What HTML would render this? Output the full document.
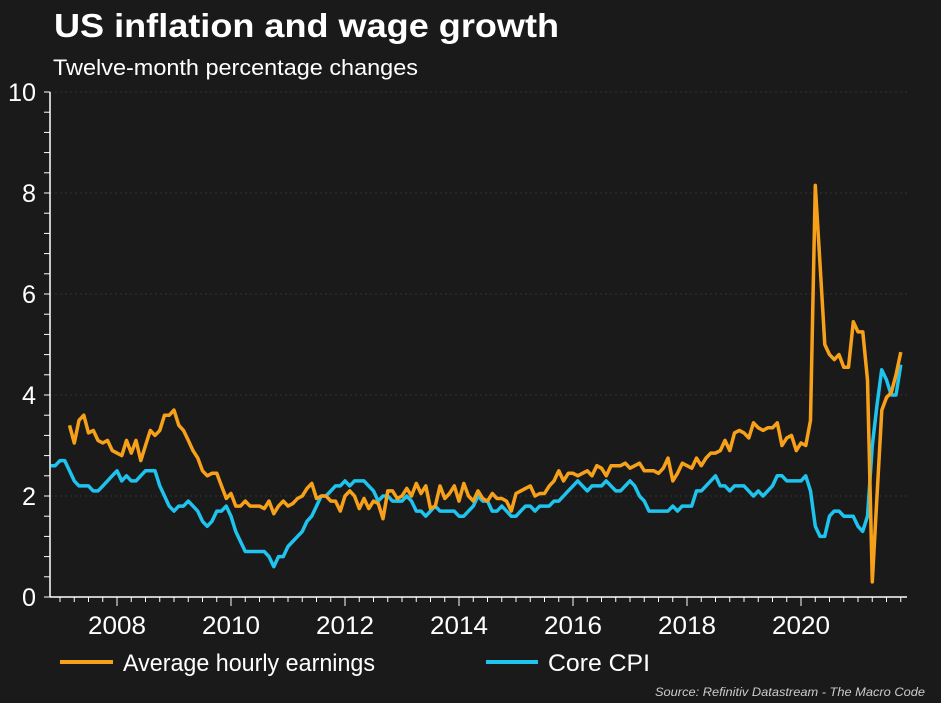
<!DOCTYPE html>
<html><head><meta charset="utf-8">
<style>
html,body{margin:0;padding:0;background:#1a1a1a;}
svg{display:block;font-family:"Liberation Sans",Arial,sans-serif;}
</style></head>
<body>
<svg id="chart" width="941" height="703" viewBox="0 0 941 703">
<rect width="941" height="703" fill="#1a1a1a"/>
<text x="54" y="37" fill="#fff" font-size="33" font-weight="bold" textLength="505" lengthAdjust="spacingAndGlyphs">US inflation and wage growth</text>
<text x="53" y="75" fill="#fff" font-size="22" textLength="365" lengthAdjust="spacingAndGlyphs">Twelve-month percentage changes</text>
<g id="grid"></g>
<g id="axes"></g>
<g id="series"></g>
<g>
<line x1="60" y1="662" x2="113" y2="662" stroke="#f7a11a" stroke-width="4"/>
<text x="123" y="671" fill="#fff" font-size="24" textLength="252" lengthAdjust="spacingAndGlyphs">Average hourly earnings</text>
<line x1="486" y1="662" x2="538" y2="662" stroke="#1ec3ee" stroke-width="4"/>
<text x="548" y="671" fill="#fff" font-size="24" textLength="102" lengthAdjust="spacingAndGlyphs">Core CPI</text>
</g>
<text x="655" y="696" fill="#ccc" font-size="12" font-style="italic" textLength="270" lengthAdjust="spacingAndGlyphs">Source: Refinitiv Datastream - The Macro Code</text>
</svg>
<script>
const yTicks=[0,2,4,6,8,10];
const xTickYears=[2008,2010,2012,2014,2016,2018,2020];
const cpiStart=2006+10/12;
const cpiValues=[2.6,2.6,
2.7,2.7,2.5,2.3,2.2,2.2,2.2,2.1,2.1,2.2,2.3,2.4,
2.5,2.3,2.4,2.3,2.3,2.4,2.5,2.5,2.5,2.2,2.0,1.8,
1.7,1.8,1.8,1.9,1.8,1.7,1.5,1.4,1.5,1.7,1.7,1.8,
1.6,1.3,1.1,0.9,0.9,0.9,0.9,0.9,0.8,0.6,0.8,0.8,
1.0,1.1,1.2,1.3,1.5,1.6,1.8,2.0,2.0,2.1,2.2,2.2,
2.3,2.2,2.3,2.3,2.3,2.2,2.1,1.9,2.0,2.0,1.9,1.9,
1.9,2.0,1.9,1.7,1.7,1.6,1.7,1.8,1.7,1.7,1.7,1.7,
1.6,1.6,1.7,1.8,2.0,1.9,1.9,1.7,1.7,1.8,1.7,1.6,
1.6,1.7,1.8,1.8,1.7,1.8,1.8,1.8,1.9,1.9,2.0,2.1,
2.2,2.3,2.2,2.1,2.2,2.2,2.2,2.3,2.2,2.1,2.1,2.2,
2.3,2.2,2.0,1.9,1.7,1.7,1.7,1.7,1.7,1.8,1.7,1.8,
1.8,1.8,2.1,2.1,2.2,2.3,2.4,2.2,2.2,2.1,2.2,2.2,
2.2,2.1,2.0,2.1,2.0,2.1,2.2,2.4,2.4,2.3,2.3,2.3,
2.3,2.4,2.1,1.4,1.2,1.2,1.6,1.7,1.7,1.6,1.6,1.6,
1.4,1.3,1.6,3.0,3.8,4.5,4.3,4.0,4.0,4.6];
const aheStart=2007+2/12;
const aheValues=[3.4,3.05,3.5,3.6,3.25,3.3,3.1,3.05,3.1,2.9,
2.85,2.8,3.1,2.85,3.1,2.7,3.0,3.3,3.2,3.3,3.6,3.6,
3.7,3.4,3.3,3.1,2.9,2.75,2.5,2.4,2.45,2.45,2.2,1.95,
2.05,1.8,1.8,1.9,1.8,1.8,1.8,1.75,1.9,1.65,1.8,1.9,
1.8,1.85,1.95,2.0,2.15,2.25,1.95,2.0,2.0,1.9,1.9,1.7,
2.0,2.1,2.0,1.75,1.95,1.75,1.9,1.85,1.55,2.1,2.1,1.95,
2.0,2.15,2.0,2.25,2.05,2.2,1.75,1.8,2.2,1.95,2.05,2.2,
1.9,2.25,2.0,1.9,2.1,1.95,1.9,2.05,1.95,1.95,1.9,1.7,
2.05,2.1,2.15,2.2,2.0,2.05,2.05,2.2,2.3,2.5,2.3,2.45,
2.45,2.4,2.45,2.5,2.4,2.6,2.55,2.4,2.6,2.6,2.6,2.65,
2.55,2.6,2.65,2.5,2.5,2.5,2.45,2.55,2.75,2.3,2.45,2.65,
2.6,2.55,2.75,2.6,2.75,2.85,2.85,2.9,3.1,2.9,3.25,3.3,
3.25,3.15,3.45,3.35,3.3,3.35,3.35,3.45,3.0,3.15,3.2,2.9,
3.05,3.0,3.5,8.15,6.6,5.0,4.8,4.7,4.8,4.55,4.55,5.45,
5.25,5.25,4.3,0.3,2.0,3.7,3.95,4.05,4.4,4.85];

const NS='http://www.w3.org/2000/svg';
function xS(t){return 117+57*(t-2008);}
function yS(v){return 597-50.5*v;}
function mk(tag,attrs,parent){const e=document.createElementNS(NS,tag);for(const k in attrs)e.setAttribute(k,attrs[k]);parent.appendChild(e);return e;}
const grid=document.getElementById('grid'),axes=document.getElementById('axes'),series=document.getElementById('series');
const xL=50,xR=907;
yTicks.forEach(v=>{
  if(v>0){const g=mk('line',{x1:xL,x2:xR,y1:yS(v),y2:yS(v),stroke:'#333','stroke-dasharray':'2,3'},grid);
  
  }
  const s=String(v);
  const t=mk('text',{x:36,y:yS(v)+9,fill:'#fff','font-size':25,'text-anchor':'end',textLength:s.length*14,lengthAdjust:'spacingAndGlyphs'},axes);
  t.textContent=s;
  
  
});
for(let v=0;v<=10.001;v+=0.4){mk('line',{x1:xL-6,x2:xL,y1:yS(v),y2:yS(v),stroke:'#fff','stroke-width':1},axes);}
const ya=mk('line',{x1:xL,x2:xL,y1:yS(10),y2:yS(0),stroke:'#fff','stroke-width':1.5},axes);


const xa=mk('line',{x1:xL,x2:xR,y1:yS(0),y2:yS(0),stroke:'#fff','stroke-width':1.5},axes);


for(let t=2007;t<=2021.76;t+=0.25){const x=xS(t);if(x<xL||x>xR)continue;
  const major=Math.abs(t-Math.round(t))<0.01&&Math.round(t)%2===0;
  mk('line',{x1:x,x2:x,y1:yS(0),y2:yS(0)+(major?9:5),stroke:'#fff','stroke-width':1},axes);}
xTickYears.forEach(yr=>{
  const t=mk('text',{x:xS(yr)-29,y:634,fill:'#fff','font-size':25,textLength:58,lengthAdjust:'spacingAndGlyphs'},axes);
  t.textContent=yr;
  
  
});
function line(vals,start,color,name){
  const d=vals.map((v,i)=>(i?'L':'M')+xS(start+i/12).toFixed(1)+','+yS(v).toFixed(1)).join('');
  const p=mk('path',{d:d,fill:'none',stroke:color,'stroke-width':3.5,'stroke-linejoin':'round'},series);
  
  
}
line(cpiValues,cpiStart,'#1ec3ee','core-cpi-line');
line(aheValues,aheStart,'#f7a11a','average-hourly-earnings-line');
</script>
</body></html>
